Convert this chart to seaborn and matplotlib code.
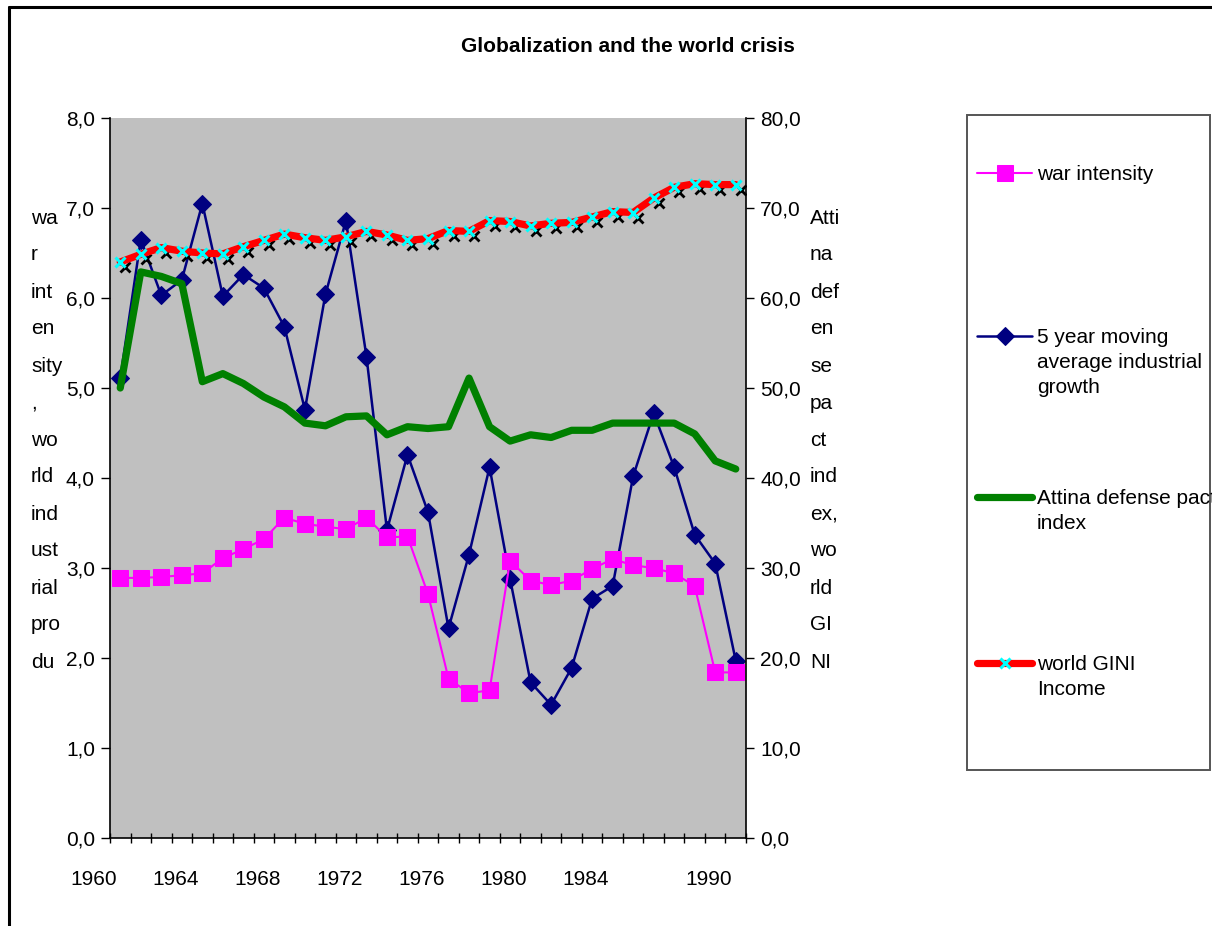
import numpy as np
import pandas as pd
import matplotlib
matplotlib.use('Agg')
import matplotlib.pyplot as plt
import matplotlib.transforms as mtransforms
from matplotlib.lines import Line2D
from matplotlib.patches import Rectangle
from matplotlib.ticker import FuncFormatter
import seaborn as sns

# data, one value per year 1960-1990
years = list(range(1960, 1991))
war_intensity = [2.89, 2.89, 2.90, 2.92, 2.94, 3.11, 3.21, 3.32, 3.56, 3.49,
                 3.46, 3.43, 3.56, 3.34, 3.35, 2.71, 1.77, 1.61, 1.64, 3.08,
                 2.86, 2.81, 2.86, 2.99, 3.10, 3.03, 3.00, 2.94, 2.80, 1.84, 1.84]
industrial_growth = [5.11, 6.65, 6.03, 6.20, 7.05, 6.02, 6.26, 6.11, 5.68, 4.76,
                     6.04, 6.86, 5.35, 3.42, 4.26, 3.62, 2.33, 3.15, 4.12, 2.88,
                     1.73, 1.48, 1.89, 2.66, 2.80, 4.02, 4.72, 4.12, 3.37, 3.05, 1.97]
attina_pact = [50.0, 62.9, 62.4, 61.6, 50.7, 51.6, 50.5, 49.0, 47.9, 46.1,
               45.8, 46.8, 46.9, 44.8, 45.7, 45.5, 45.7, 51.1, 45.7, 44.1,
               44.8, 44.5, 45.3, 45.3, 46.1, 46.1, 46.1, 46.1, 44.9, 41.9, 41.0]
world_gini = [64.0, 64.85, 65.6, 65.2, 65.0, 64.9, 65.7, 66.4, 67.1, 66.7,
              66.4, 66.8, 67.4, 67.0, 66.4, 66.6, 67.5, 67.4, 68.6, 68.5,
              68.0, 68.3, 68.4, 69.0, 69.6, 69.5, 71.1, 72.3, 72.7, 72.6, 72.6]

tick_years = [1960, 1964, 1968, 1972, 1976, 1980, 1984, 1990]
tick_labels = ['1960', '1964', '1968', '1972', '1976', '1980', '1984', '1990']

# axis titles as they are broken up in the narrow side columns
left_title = ['wa', 'r', 'int', 'en', 'sity', ',', 'wo', 'rld', 'ind', 'ust',
              'rial', 'pro', 'du']
right_title = ['Atti', 'na', 'def', 'en', 'se', 'pa', 'ct', 'ind', 'ex,', 'wo',
               'rld', 'GI', 'NI']

legend_labels = ['war intensity', '5 year moving\naverage industrial\ngrowth',
                 'Attina defense pact\nindex', 'world GINI\nIncome']

df = pd.DataFrame({'year': years, 'war': war_intensity, 'industrial': industrial_growth,
                   'attina': attina_pact, 'gini': world_gini})

sns.set_style('ticks')
plt.rcParams['font.family'] = ['Liberation Sans', 'DejaVu Sans']
plt.rcParams['font.size'] = 15
plt.rcParams['text.color'] = 'black'

W, H = 1212, 926
fig = plt.figure(figsize=(W / 100, H / 100), dpi=100)
ax = fig.add_axes([110 / W, 1 - 838 / H, 636 / W, 720 / H])
ax.set_facecolor('#c0c0c0')
ax2 = ax.twinx()
ax2.patch.set_visible(False)

# left axis series
sns.lineplot(data=df, x='year', y='industrial', ax=ax, color='#000080', lw=1.8,
             marker='D', ms=9.5, mec='#000080', mfc='#000080', legend=False)
sns.lineplot(data=df, x='year', y='war', ax=ax, color='#ff00ff', lw=1.5,
             marker='s', ms=11, mec='#ff00ff', mfc='#ff00ff', legend=False)

# right axis series
sns.lineplot(data=df, x='year', y='attina', ax=ax2, color='#008000', lw=5.2, legend=False)
shadow = mtransforms.offset_copy(ax2.transData, fig=fig, x=3.6, y=-3.6, units='points')
sns.lineplot(data=df, x='year', y='gini', ax=ax2, color='black', ls='', marker='x',
             ms=7, mew=2, mec='black', transform=shadow, legend=False)
sns.lineplot(data=df, x='year', y='gini', ax=ax2, color='#ff0000', lw=5.2,
             marker='x', ms=7, mew=2.2, mec='#00ffff', legend=False)

ax.set_xlim(1959.5, 1990.5)
ax.set_ylim(0, 8)
ax2.set_ylim(0, 80)
ax.set_xticks(np.arange(1959.5, 1991, 1))
ax.set_xticklabels([])
ax.set_yticks(range(0, 9))
ax2.set_yticks(range(0, 81, 10))
comma = FuncFormatter(lambda v, p: f'{v:.1f}'.replace('.', ','))
ax.yaxis.set_major_formatter(comma)
ax2.yaxis.set_major_formatter(comma)
for a in (ax, ax2):
    a.set_xlabel('')
    a.set_ylabel('')
    a.grid(False)
ax.tick_params(axis='x', direction='inout', length=7, width=1, color='black')
ax.tick_params(axis='y', direction='out', length=6.5, width=1, pad=4.3,
               color='black', labelcolor='black', labelsize=15)
ax2.tick_params(axis='y', direction='out', length=6, width=1, pad=4.3,
                color='black', labelcolor='black', labelsize=15)

ax.spines['top'].set_visible(False)
ax.spines['right'].set_visible(False)
for s in ('left', 'bottom'):
    ax.spines[s].set_color('black')
    ax.spines[s].set_linewidth(1.2)
for s in ('top', 'left', 'bottom'):
    ax2.spines[s].set_visible(False)
ax2.spines['right'].set_color('black')
ax2.spines['right'].set_linewidth(1.2)

# year labels sit a little left of their category, as in the original
lab_trans = mtransforms.blended_transform_factory(ax.transData, fig.transFigure)
for yr, lab in zip(tick_years, tick_labels):
    ax.text(yr - 1.31, 1 - 885 / H, lab, transform=lab_trans, ha='center',
            va='baseline', fontsize=15, clip_on=False)

for k, chunk in enumerate(left_title):
    fig.text(31 / W, 1 - (223.5 + 37 * k) / H, chunk, ha='left', va='baseline', fontsize=15)
for k, chunk in enumerate(right_title):
    fig.text(810 / W, 1 - (223.5 + 37 * k) / H, chunk, ha='left', va='baseline', fontsize=15)

fig.text(628 / W, 1 - 52 / H, 'Globalization and the world crisis', ha='center',
         va='baseline', fontsize=15, fontweight='bold')

# legend box, drawn by hand so the handles sit on the first text line like in Excel
series_lines = [ax.lines[1], ax.lines[0], ax2.lines[0], ax2.lines[2]]
entry_y = [173, 336, 497, 663]
fig.add_artist(Rectangle((967 / W, 1 - 770 / H), 243 / W, 655 / H, transform=fig.transFigure,
                         fill=False, edgecolor='#555555', lw=1.4))
for src, lab, yy in zip(series_lines, legend_labels, entry_y):
    h = Line2D([977 / W, 1004.5 / W, 1032 / W], [1 - yy / H] * 3)
    h.update_from(src)
    h.set_transform(fig.transFigure)
    h.set_clip_on(False)
    h.set_markevery([1])
    fig.add_artist(h)
    # baseline alignment goes to the last line, so shift by the extra lines
    n_extra = lab.count('\n')
    fig.text(1037 / W, 1 - (yy + 7 + 25 * n_extra) / H, lab, ha='left', va='baseline',
             fontsize=15, linespacing=1.39)

# outer chart border (only top and left are inside the picture)
fig.add_artist(Line2D([8.7 / W, 8.7 / W], [0, 1 - 6.7 / H], transform=fig.transFigure,
                      color='black', lw=2.2))
fig.add_artist(Line2D([8.7 / W, 1], [1 - 6.7 / H, 1 - 6.7 / H], transform=fig.transFigure,
                      color='black', lw=2.2))

fig.savefig('out.png', dpi=100)
